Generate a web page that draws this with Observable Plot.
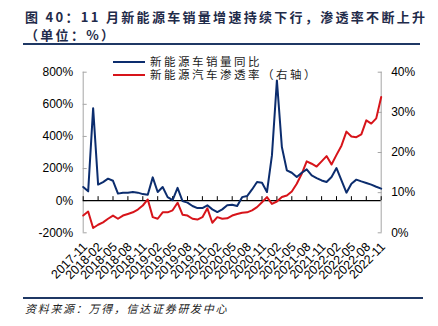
<!DOCTYPE html>
<html><head><meta charset="utf-8">
<script src="https://cdn.jsdelivr.net/npm/d3@7"></script>
<script src="https://cdn.jsdelivr.net/npm/@observablehq/plot@0.6"></script>
<style>
body{margin:0;background:#fff;}
#wrap{position:relative;width:438px;height:326px;overflow:hidden;font-family:"Noto Sans CJK SC",sans-serif;}
.title{position:absolute;left:25px;top:8px;font-size:13px;font-weight:bold;color:#1f2b4a;letter-spacing:2.3px;line-height:18px;white-space:nowrap;}
.rule1{position:absolute;left:23px;top:43px;width:397px;height:2px;background:#1f3864;}
#chart{position:absolute;left:0;top:50px;}
.lg{position:absolute;left:150px;font-family:"Liberation Sans","Noto Sans CJK SC",sans-serif;font-size:11.5px;letter-spacing:2.5px;color:#222;line-height:12px;white-space:nowrap;}
.lgl{position:absolute;left:113px;width:32px;height:2px;}
.rule2{position:absolute;left:23px;top:297px;width:400px;height:2px;background:#1f3864;}
.source{position:absolute;left:25px;top:301px;font-size:11px;font-style:italic;letter-spacing:1.7px;color:#222;line-height:15px;white-space:nowrap;}
</style>
</head><body>
<div id="wrap">
<div class="title">图 40：11 月新能源车销量增速持续下行，渗透率不断上升<br>（单位：%）</div>
<div class="rule1"></div>
<div id="chart"></div>
<div class="lgl" style="top:61px;background:#0c2d6e"></div>
<div class="lg" style="top:56px">新能源车销量同比</div>
<div class="lgl" style="top:74px;background:#d7141a"></div>
<div class="lg" style="top:69px">新能源汽车渗透率（右轴）</div>
<div class="rule2"></div>
<div class="source">资料来源：万得，信达证券研发中心</div>
</div>
<script>
const months = ["2017-11","2017-12","2018-01","2018-02","2018-03","2018-04","2018-05","2018-06","2018-07","2018-08","2018-09","2018-10","2018-11","2018-12",
"2019-01","2019-02","2019-03","2019-04","2019-05","2019-06","2019-07","2019-08","2019-09","2019-10","2019-11","2019-12",
"2020-01","2020-02","2020-03","2020-04","2020-05","2020-06","2020-07","2020-08","2020-09","2020-10","2020-11","2020-12",
"2021-01","2021-02","2021-03","2021-04","2021-05","2021-06","2021-07","2021-08","2021-09","2021-10","2021-11","2021-12",
"2022-01","2022-02","2022-03","2022-04","2022-05","2022-06","2022-07","2022-08","2022-09","2022-10","2022-11"];
const salesYoY = [85,58,576,100,116,137,124,44,50,50,54,50,41,37,145,54,85,22,3,80,-3,-12,-33,-46,-46,-29,-54,-71,-54,-29,-25,-33,22,29,70,116,112,54,282,749,334,189,174,147,174,195,157,141,126,116,147,203,126,50,106,131,120,110,100,87,75];
const penetration = [4.3,5.3,1.2,2.0,2.6,3.5,4.3,3.5,4.3,4.7,5.1,5.8,6.8,8.3,3.9,3.5,5.1,5.1,5.6,7.5,4.5,4.3,3.5,3.3,3.9,6.1,2.5,3.9,3.5,3.6,4.3,4.7,5.0,5.1,5.6,6.4,7.6,8.9,7.2,7.8,8.9,9.3,10.3,12.2,14.7,17.8,17.2,16.5,17.8,19.1,17.0,19.4,21.7,25.2,24.0,23.8,24.5,28.0,27.2,28.5,33.8];
const tickMonths = ["2017-11","2018-02","2018-05","2018-08","2018-11","2019-02","2019-05","2019-08","2019-11","2020-02","2020-05","2020-08","2020-11","2021-02","2021-05","2021-08","2021-11","2022-02","2022-05","2022-08","2022-11"];
const leftTicks = [-200,0,200,400,600,800];
const rightTicks = [0,10,20,30,40];

const lo = leftTicks[0], hi = leftTicks[leftTicks.length-1];
const rMax = rightTicks[rightTicks.length-1];
const toLeft = v => lo + v/rMax*(hi-lo);
const toRight = v => Math.round((v-lo)/(hi-lo)*rMax);

const data = months.map((m,i)=>({m, yoy: salesYoY[i], pen: penetration[i]}));

const chart = Plot.plot({
  width: 438, height: 246,
  marginLeft: 82.7, marginRight: 57.3, marginTop: 21.7, marginBottom: 63.7,
  style: {fontFamily: '"Liberation Sans", Arial, sans-serif', fontSize: "12px", color: "#000", background: "transparent"},
  x: {type: "point", domain: months, padding: 0, label: null},
  y: {domain: [lo, hi], label: null},
  marks: [
    Plot.ruleX([months[0]], {y1: lo, y2: hi, stroke: "#a6a6a6"}),
    Plot.ruleX([months[months.length-1]], {y1: lo, y2: hi, stroke: "#a6a6a6"}),
    Plot.axisY({anchor: "left", ticks: leftTicks, tickFormat: d => d + "%", tickSize: 4, dx: 4, tickPadding: 10, stroke: "#a6a6a6", fontSize: 12, label: null}),
    Plot.axisY({anchor: "right", ticks: rightTicks.map(toLeft), tickFormat: d => toRight(d) + "%", tickSize: 4, dx: -4, tickPadding: 10, stroke: "#a6a6a6", fontSize: 12, label: null}),
    Plot.axisX({ticks: tickMonths, tickSize: 0, tickRotate: -45, tickPadding: 4, dy: 8, dx: 2, fontSize: 12.5, label: null}),
    Plot.ruleY([0], {stroke: "#000", strokeWidth: 1.3}),
    Plot.ruleX(tickMonths, {x: d => d, y1: 0, y2: 25, stroke: "#000"}),
    Plot.line(data, {x: "m", y: d => toLeft(d.pen), stroke: "#d7141a", strokeWidth: 2, strokeLinejoin: "round"}),
    Plot.line(data, {x: "m", y: "yoy", stroke: "#0c2d6e", strokeWidth: 2, strokeLinejoin: "round"})
  ]
});
document.getElementById("chart").appendChild(chart);
</script>
</body></html>
